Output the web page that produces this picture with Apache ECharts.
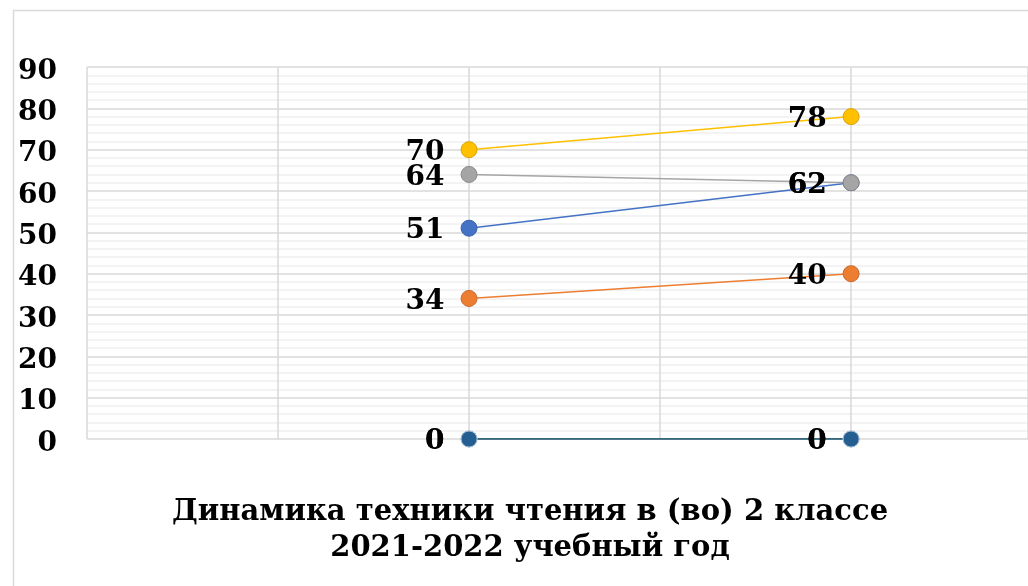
<!DOCTYPE html>
<html>
<head>
<meta charset="utf-8">
<script src="https://cdn.jsdelivr.net/npm/echarts@6/dist/echarts.min.js"></script>
<style>html,body{margin:0;padding:0;background:#fff;}#c{width:1028px;height:586px;}</style>
</head>
<body>
<div id="c"></div>
<script>
// x positions of the two measurements on the horizontal value axis
var xPositions = [1, 2];
var blueValues = [51, 62];
var orangeValues = [34, 40];
var grayValues = [64, 62];
var yellowValues = [70, 78];
var zeroValuesA = [0, 0];
var zeroValuesB = [0, 0];
var yTickLabels = ['0','10','20','30','40','50','60','70','80','90'];
var titleLines = ['Динамика техники чтения в (во) 2 классе', '2021-2022 учебный год'];

var FONT = 'DejaVu Serif';

function pts(vals) { return xPositions.map(function (x, i) { return [x, vals[i]]; }); }

function mkSeries(name, vals, color, border) {
  return {
    name: name, type: 'line', data: pts(vals),
    symbol: 'circle', symbolSize: 16,
    lineStyle: { color: color, width: 1.5 },
    itemStyle: { color: color, borderColor: border, borderWidth: 1 },
    label: {
      show: true, position: 'left', distance: 16, offset: [0, 3],
      fontFamily: FONT, fontWeight: 'bold', fontSize: 28, color: '#000'
    },
    emphasis: { disabled: true },
    animation: false
  };
}

var chart = echarts.init(document.getElementById('c'), null, { renderer: 'canvas' });
chart.setOption({
  backgroundColor: '#fff',
  animation: false,
  graphic: [{
    type: 'rect', left: 11, top: 8, z: -10, silent: true,
    shape: { width: 1200, height: 800 },
    style: { fill: 'none', stroke: '#d9d9d9', lineWidth: 1.5 }
  }],
  title: {
    text: titleLines.join('\n'),
    left: 525, top: 489, textAlign: 'center',
    textStyle: { fontFamily: FONT, fontWeight: 'bold', fontSize: 29, lineHeight: 36, color: '#000' }
  },
  grid: { left: 87, right: 0, top: 67, bottom: 147, containLabel: false },
  xAxis: {
    type: 'value', min: 0, max: 2.463, interval: 0.5,
    axisLine: { show: false }, axisTick: { show: false }, axisLabel: { show: false },
    splitLine: { show: true, lineStyle: { color: '#d9d9d9', width: 1.5 } }
  },
  yAxis: {
    type: 'value', min: 0, max: 90, interval: 10,
    axisLine: { show: false }, axisTick: { show: false },
    axisLabel: {
      margin: 30, color: '#000',
      formatter: function (v) { return '{a|' + yTickLabels[Math.round(v / 10)] + '}'; },
      rich: {
        a: { fontFamily: FONT, fontWeight: 'bold', fontSize: 28, color: '#000', padding: [9, 0, 0, 0] }
      }
    },
    splitLine: { show: true, lineStyle: { color: '#d9d9d9', width: 1.5 } },
    minorTick: { show: false, splitNumber: 5 },
    minorSplitLine: { show: true, lineStyle: { color: '#f0f0f0', width: 1.5 } }
  },
  series: [
    mkSeries('s1', blueValues, '#4472C4', '#3a63ad'),
    mkSeries('s2', orangeValues, '#ED7D31', '#c9682a'),
    mkSeries('s3', grayValues, '#A5A5A5', '#8a8a8a'),
    mkSeries('s4', yellowValues, '#FFC000', '#d9a300'),
    mkSeries('s5', zeroValuesA, '#43682B', '#9fb8cf'),
    mkSeries('s6', zeroValuesB, '#255E91', '#a9c1d9')
  ]
});
</script>
</body>
</html>
